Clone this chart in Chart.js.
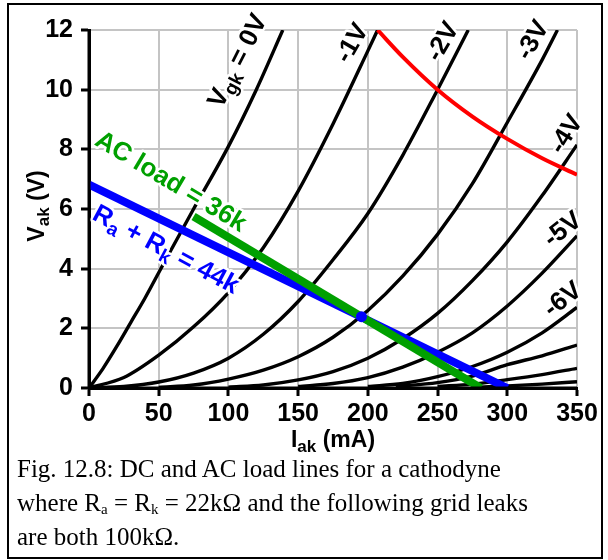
<!DOCTYPE html>
<html>
<head>
<meta charset="utf-8">
<script src="https://cdn.jsdelivr.net/npm/chart.js@4"></script>
<style>
    html, body { margin: 0; padding: 0; background: #fff; }
    #wrap { position: relative; width: 608px; height: 560px; }
    #frame {
        position: absolute; left: 7px; top: 3px; width: 592px; height: 552px;
        border: 2px solid #000;
    }
    canvas { position: absolute; left: 0; top: 0; }
    #caption {
        position: absolute; left: 17px; top: 452px;
        font-family: "Liberation Serif", "Times New Roman", serif;
        font-size: 25px; line-height: 34px; color: #000;
    }
    #caption sub { font-size: 15px; vertical-align: -3px; line-height: 0; }
</style>
</head>
<body>
<div id="wrap">
    <div id="frame"></div>
    <canvas id="loadChart" width="608" height="560"></canvas>
    <div id="caption">Fig. 12.8: DC and AC load lines for a cathodyne<br>where R<sub>a</sub> = R<sub>k</sub> = 22kΩ and the following grid leaks<br>are both 100kΩ.</div>
</div>
<script>
/* ---- 轴刻度 ---- */
const xTicks = [0, 50, 100, 150, 200, 250, 300, 350];
const yTicks = [0, 2, 4, 6, 8, 10, 12];

/* ---- 特性曲线 (Iak, Vak) 读图估计 ---- */
const curve0V = [[0,0],[10,0.65],[20,1.4],[30,2.2],[40,3.0],[55,4.3],[75,6.0],[100,8.1],[120,10.0],[139,12]];
const curve1V = [[0,0],[25,0.35],[50,1.1],[75,2.05],[100,3.2],[125,4.7],[150,6.6],[175,8.85],[200,11.3],[207,12]];
const curve2V = [[0,0],[25,0.05],[50,0.2],[75,0.5],[100,1.0],[125,1.8],[150,2.9],[175,4.3],[200,5.85],[225,7.8],[250,10.0],[272,12]];
const curve3V = [[50,0.02],[75,0.1],[100,0.3],[125,0.6],[150,1.05],[175,1.7],[200,2.6],[225,3.75],[250,5.15],[275,6.85],[300,8.9],[325,11.0],[336,12]];
const curve4V = [[100,0.03],[125,0.1],[150,0.27],[175,0.55],[200,1.0],[225,1.65],[250,2.5],[275,3.6],[300,4.9],[325,6.45],[350,8.15]];
const curve5V = [[150,0.05],[175,0.15],[200,0.35],[225,0.7],[250,1.2],[275,1.85],[300,2.75],[325,3.85],[350,5.1]];
const curve6V = [[200,0.05],[225,0.15],[250,0.38],[275,0.72],[300,1.2],[325,1.85],[350,2.7]];
const curve7V = [[220,0.05],[250,0.18],[275,0.4],[300,0.78],[325,1.08],[350,1.44]];
const curve8V = [[250,0.05],[275,0.13],[300,0.28],[325,0.45],[350,0.66]];
const curve9V = [[280,0.03],[300,0.07],[325,0.13],[350,0.21]];

/* ---- 负载线、功耗曲线、工作点 ---- */
const powerLimit = [[207,12],[225,11.1],[250,10.0],[275,9.1],[300,8.35],[325,7.7],[350,7.15]];
const dcLoad = [[0,6.82],[300,0]];
const acLoad = [[75,5.75],[281,0]];
const quiescent = [[195.4,2.39]];

/* ---- 标注 (数据坐标 + 角度) ---- */
const curveLabels = [
    { parts: [['V'], ['gk', 1], [' = 0V']], at: [107, 10.95], angle: -63 },
    { parts: [['-1V']], at: [189, 11.55], angle: -60 },
    { parts: [['-2V']], at: [254, 11.6], angle: -60 },
    { parts: [['-3V']], at: [318.5, 11.65], angle: -60 },
    { parts: [['-4V']], at: [342.5, 8.5], angle: -58 },
    { parts: [['-5V']], at: [340, 5.3], angle: -38 },
    { parts: [['-6V']], at: [340, 2.95], angle: -38 }
];
const lineLabels = [
    { parts: [['AC load = 36k']], at: [58.5, 6.9], angle: 31, color: '#00a000' },
    { parts: [['R'], ['a', 1], [' + R'], ['k', 1], [' = 44k']], at: [55, 4.62], angle: 28, color: '#0000ff' }
];

const FONT = '"Liberation Sans", Arial, sans-serif';

const pts = arr => arr.map(p => ({ x: p[0], y: p[1] }));

function curveSet(data) {
    return {
        data: pts(data), showLine: true, borderColor: '#000', borderWidth: 3.4,
        pointRadius: 0, cubicInterpolationMode: 'monotone', fill: false, order: 4, clip: 0
    };
}

/* 带下标的旋转文字, 白色描边 */
function drawRich(ctx, parts, x, y, angle, color, size) {
    ctx.save();
    ctx.translate(x, y);
    ctx.rotate(angle * Math.PI / 180);
    ctx.textBaseline = 'middle';
    ctx.textAlign = 'left';
    const big = 'bold ' + size + 'px ' + FONT;
    const small = 'bold ' + Math.round(size * 0.74) + 'px ' + FONT;
    let total = 0;
    const widths = parts.map(p => {
        ctx.font = p[1] ? small : big;
        const w = ctx.measureText(p[0]).width;
        total += w;
        return w;
    });
    ['halo', 'fill'].forEach(pass => {
        let cx = -total / 2;
        parts.forEach((p, i) => {
            ctx.font = p[1] ? small : big;
            const dy = p[1] ? size * 0.28 : 0;
            if (pass === 'halo') {
                ctx.strokeStyle = '#fff';
                ctx.lineWidth = 5;
                ctx.lineJoin = 'round';
                ctx.strokeText(p[0], cx, dy);
            } else {
                ctx.fillStyle = color;
                ctx.fillText(p[0], cx, dy);
            }
            cx += widths[i];
        });
    });
    ctx.restore();
}

function placeLabels(chart, list, defColor) {
    const xs = chart.scales.x, ys = chart.scales.y;
    list.forEach(l => {
        drawRich(chart.ctx, l.parts, xs.getPixelForValue(l.at[0]), ys.getPixelForValue(l.at[1]),
            l.angle, l.color || defColor, 26);
    });
}

const datasets = [
    { data: pts(quiescent), pointRadius: 5.5, pointBackgroundColor: '#0000ff', pointBorderWidth: 0, order: 0 },
    { data: pts(acLoad), showLine: true, borderColor: '#00a000', borderWidth: 8, pointRadius: 0, order: 1, clip: 0 },
    { data: pts(dcLoad), showLine: true, borderColor: '#0000ff', borderWidth: 8, pointRadius: 0, order: 2, clip: 0 },
    { data: pts(powerLimit), showLine: true, borderColor: '#ff0000', borderWidth: 4, pointRadius: 0,
      cubicInterpolationMode: 'monotone', order: 3, clip: 0 },
    curveSet(curve0V), curveSet(curve1V), curveSet(curve2V), curveSet(curve3V), curveSet(curve4V),
    curveSet(curve5V), curveSet(curve6V), curveSet(curve7V), curveSet(curve8V), curveSet(curve9V)
];
const RED_INDEX = 3;

const overlay = {
    id: 'overlay',
    beforeDatasetDraw(chart, args) {
        // 曲线标注在黑线之后、彩色线之前绘制
        if (args.index === RED_INDEX) placeLabels(chart, curveLabels, '#000');
    },
    afterDatasetsDraw(chart) {
        const ctx = chart.ctx, a = chart.chartArea;
        placeLabels(chart, lineLabels, '#000');
        // 坐标轴线
        ctx.save();
        ctx.strokeStyle = '#000';
        ctx.lineWidth = 3;
        ctx.beginPath();
        ctx.moveTo(a.left, a.top);
        ctx.lineTo(a.left, a.bottom);
        ctx.lineTo(a.right, a.bottom);
        ctx.stroke();
        ctx.restore();
        // 轴标题
        drawTitle(ctx, [['I'], ['ak', 1], [' (mA)']], (a.left + a.right) / 2, a.bottom + 53, 0);
        drawTitle(ctx, [['V'], ['ak', 1], [' (V)']], 38, (a.top + a.bottom) / 2 - 3, -90);
    }
};

function drawTitle(ctx, parts, x, y, angle) {
    ctx.save();
    ctx.translate(x, y);
    ctx.rotate(angle * Math.PI / 180);
    ctx.textBaseline = 'middle';
    const size = 23;
    const big = 'bold ' + size + 'px ' + FONT;
    const small = 'bold ' + Math.round(size * 0.74) + 'px ' + FONT;
    let total = 0;
    parts.forEach(p => { ctx.font = p[1] ? small : big; total += ctx.measureText(p[0]).width; });
    let cx = -total / 2;
    ctx.fillStyle = '#000';
    parts.forEach(p => {
        ctx.font = p[1] ? small : big;
        ctx.fillText(p[0], cx, p[1] ? size * 0.28 : 0);
        cx += ctx.measureText(p[0]).width;
    });
    ctx.restore();
}

const axisCommon = {
    type: 'linear',
    ticks: { color: '#000', font: { family: FONT, size: 25, weight: 'bold' }, maxRotation: 0 },
    grid: { color: '#c4c4c4', lineWidth: 2, tickColor: '#000', tickWidth: 3, tickLength: 8 },
    border: { color: '#000', width: 3 }
};

new Chart(document.getElementById('loadChart'), {
    type: 'scatter',
    data: { datasets },
    options: {
        responsive: false,
        animation: false,
        devicePixelRatio: 1,
        layout: { padding: { left: 0, right: 31, top: 30, bottom: 120 } },
        plugins: { legend: { display: false }, tooltip: { enabled: false } },
        scales: {
            x: Object.assign({}, axisCommon, {
                min: 0, max: 350,
                ticks: Object.assign({}, axisCommon.ticks, { padding: 3 }),
                afterBuildTicks: s => { s.ticks = xTicks.map(v => ({ value: v })); },
                afterFit: s => { s.height = 52; }
            }),
            y: Object.assign({}, axisCommon, {
                min: 0, max: 12,
                ticks: Object.assign({}, axisCommon.ticks, { padding: 8 }),
                afterBuildTicks: s => { s.ticks = yTicks.map(v => ({ value: v })); },
                afterFit: s => { s.width = 89; }
            })
        }
    },
    plugins: [overlay]
});
</script>
</body>
</html>
